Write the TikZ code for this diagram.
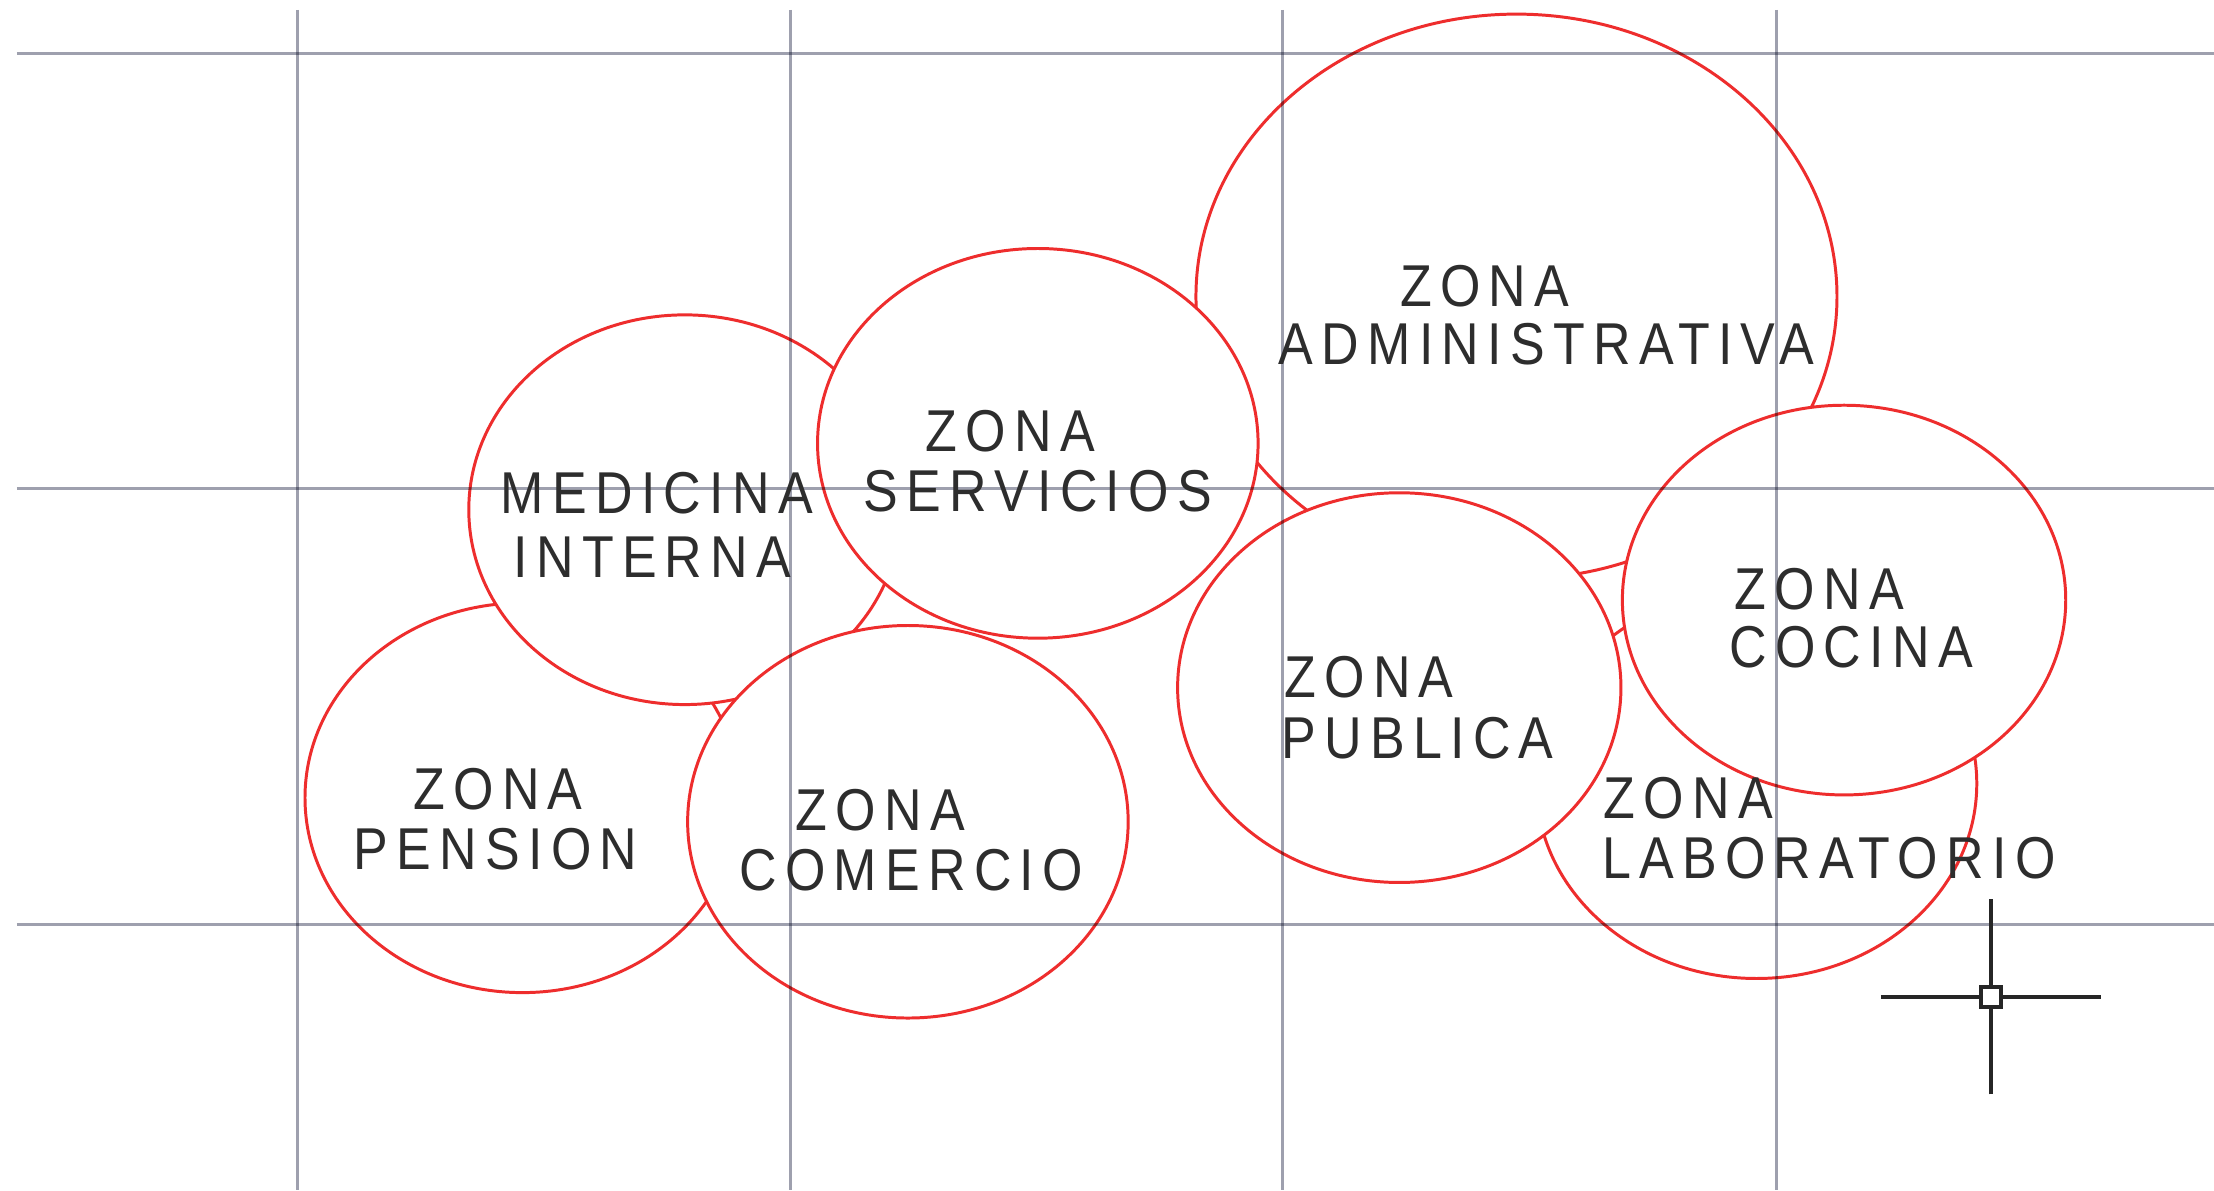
\documentclass[tikz,border=0pt]{standalone}
\usepackage{fontspec}
\usetikzlibrary{shapes.geometric}
\newfontfamily\cadfont[FakeStretch=0.88, LetterSpace=14]{Liberation Sans}
\definecolor{zonared}{RGB}{238,45,45}
\definecolor{gridclr}{RGB}{158,160,174}
\definecolor{txtclr}{RGB}{45,45,45}

\begin{document}
\begin{tikzpicture}[
    x=0.1mm, y=-0.1mm,
    % --- shape styles ---
    zona/.style   ={ellipse, draw=zonared, fill=white, line width=0.6pt,
                    inner sep=0pt},
    lbl/.style    ={anchor=base west, inner sep=0pt, text=txtclr,
                    font=\cadfont\fontsize{11.9}{14}\selectfont},
    % --- line styles ---
    rejilla/.style={draw=gridclr, line width=0.6pt, blend mode=multiply},
    mira/.style   ={draw=black!85, line width=0.75pt},
]
\fill[white] (0,0) rectangle (1568,843);
\useasboundingbox (0,0) rectangle (1568,843);

% =============== bubbles (back to front) ===============
\node[zona, minimum width=45.4mm, minimum height=40.0mm] (adm) at (1074,210) {};
\node[zona, minimum width=31.2mm, minimum height=27.6mm] (lab) at (1244,555) {};
\node[zona, minimum width=30.8mm, minimum height=27.6mm] (pen) at (370,565) {};
\node[zona, minimum width=30.6mm, minimum height=27.6mm] (med) at (485,361) {};
\node[zona, minimum width=31.2mm, minimum height=27.6mm] (ser) at (735,314) {};
\node[zona, minimum width=31.2mm, minimum height=27.8mm] (com) at (643,582) {};
\node[zona, minimum width=31.4mm, minimum height=27.6mm] (pub) at (991,487) {};
\node[zona, minimum width=31.4mm, minimum height=27.6mm] (coc) at (1306,425) {};

% =============== grid ===============
\foreach \gy in {38,346,655}
  \draw[rejilla] (12,\gy) -- (1568,\gy);
\foreach \gx in {211,560,908,1258}
  \draw[rejilla] (\gx,7) -- (\gx,843);

% =============== labels ===============
\node[lbl] (adm1) at (991,217)  {ZONA};
\node[lbl] (adm2) at (905,258)  {ADMINISTRATIVA};
\node[lbl] (ser1) at (655,320)  {ZONA};
\node[lbl] (ser2) at (611,362)  {SERVICIOS};
\node[lbl] (med1) at (354,364)  {MEDICINA};
\node[lbl] (med2) at (363,409)  {INTERNA};
\node[lbl] (pen1) at (292,573)  {ZONA};
\node[lbl] (pen2) at (250,616)  {PENSION};
\node[lbl] (com1) at (563,588)  {ZONA};
\node[lbl] (com2) at (523,631)  {COMERCIO};
\node[lbl] (pub1) at (909,494)  {ZONA};
\node[lbl] (pub2) at (907,537)  {PUBLICA};
\node[lbl] (coc1) at (1228,432) {ZONA};
\node[lbl] (coc2) at (1224,473) {COCINA};
\node[lbl] (lab1) at (1135,580) {ZONA};
\node[lbl] (lab2) at (1134,622) {LABORATORIO};

% =============== cursor ===============
\coordinate (cur) at (1410,706);
\draw[mira] ([yshift=-6.9mm]cur) -- ([yshift=6.9mm]cur);
\draw[mira] ([xshift=-7.8mm]cur) -- ([xshift=7.8mm]cur);
\draw[mira, fill=white] ([shift={(-0.7mm,-0.7mm)}]cur) rectangle ([shift={(0.7mm,0.7mm)}]cur);

\end{tikzpicture}
\end{document}
